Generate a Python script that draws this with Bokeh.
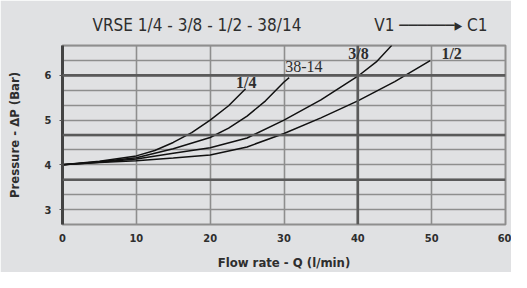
from bokeh.plotting import figure
from bokeh.models import Range1d, FixedTicker, Span, Label
from bokeh.embed import file_html
from bokeh.resources import INLINE

# ---- data ----
title_text = "VRSE 1/4 - 3/8 - 1/2 - 38/14"
flow_from = "V1"
flow_to = "C1"
x_label = "Flow rate - Q (l/min)"
y_label = "Pressure - \u0394P (Bar)"
x_ticks = [0, 10, 20, 30, 40, 50, 60]
y_ticks = [3, 4, 5, 6]

q_14 = [0, 5, 10, 12.5, 15, 17.5, 20, 22.5, 24.8]
p_14 = [4.0, 4.08, 4.2, 4.32, 4.5, 4.72, 5.0, 5.32, 5.7]

q_3814 = [0, 5, 10, 15, 20, 22.5, 25, 27.5, 30, 30.7]
p_3814 = [4.0, 4.07, 4.16, 4.36, 4.61, 4.82, 5.09, 5.43, 5.85, 5.95]

q_38 = [0, 5, 10, 15, 20, 25, 30, 35, 40, 42.5, 44.6]
p_38 = [4.0, 4.06, 4.13, 4.26, 4.38, 4.6, 5.0, 5.45, 5.98, 6.3, 6.67]

q_12 = [0, 5, 10, 15, 20, 25, 30, 35, 40, 45, 49.8]
p_12 = [4.0, 4.05, 4.09, 4.15, 4.22, 4.4, 4.7, 5.05, 5.43, 5.86, 6.33]

curve_labels = ["1/4", "38-14", "3/8", "1/2"]
label_q = [24.9, 32.7, 40.1, 52.7]
label_p = [5.85, 6.19, 6.49, 6.49]

BG = "#e0e1e3"
GRID = "#8e8e8e"
DARK = "#5a5a5a"
TXT = "#2e2e2e"
SANS = "DejaVu Sans Condensed"
SERIF = "Liberation Serif"

NB = "\u00a0"
header = (title_text + NB * 15 + flow_from + NB + "\u2500" * 6 + "\u25b8" + NB + flow_to)

p = figure(width=511, height=272, output_backend="svg", toolbar_location=None,
           x_range=Range1d(0, 60), y_range=Range1d(8 / 3, 20 / 3),
           min_border_left=62, min_border_right=6, min_border_top=45, min_border_bottom=46)
p.background_fill_color = BG
p.border_fill_color = BG
p.outline_line_color = GRID
p.outline_line_width = 2

p.title.text = header
p.title.text_font = SANS
p.title.text_font_size = "17px"
p.title.text_font_style = "normal"
p.title.text_color = TXT
p.title.align = "left"
p.title.offset = 30
p.title.standoff = 21

p.xgrid.ticker = FixedTicker(ticks=x_ticks)
p.ygrid.ticker = FixedTicker(ticks=[8 / 3 + i / 3 for i in range(13)])
for g in (p.xgrid, p.ygrid):
    g.grid_line_color = GRID
    g.grid_line_width = 1.6
for yv in (11 / 3, 14 / 3, 6.0):
    p.add_layout(Span(location=yv, dimension="width", line_color=DARK, line_width=2.6))
p.add_layout(Span(location=40, dimension="height", line_color=DARK, line_width=2.6))

p.xaxis.ticker = FixedTicker(ticks=x_ticks)
p.yaxis.ticker = FixedTicker(ticks=y_ticks)
p.xaxis.axis_line_color = None
p.xaxis.major_tick_line_color = None
p.xaxis.minor_tick_line_color = None
p.xaxis.major_tick_out = 0
p.xaxis.major_label_standoff = 9
p.yaxis.axis_line_color = "#444444"
p.yaxis.axis_line_width = 3
p.yaxis.major_tick_line_color = "#555555"
p.yaxis.major_tick_out = 3
p.yaxis.major_tick_in = 0
p.yaxis.minor_tick_line_color = None
p.yaxis.major_label_standoff = 8
for ax in (p.xaxis, p.yaxis):
    ax.major_label_text_font = SANS
    ax.major_label_text_font_style = "bold"
    ax.major_label_text_font_size = "11px"
    ax.major_label_text_color = TXT
    ax.axis_label_text_font = SANS
    ax.axis_label_text_font_style = "bold"
    ax.axis_label_text_font_size = "13px"
    ax.axis_label_text_color = TXT
p.xaxis.axis_label = x_label
p.yaxis.axis_label = y_label
p.xaxis.axis_label_standoff = 10
p.yaxis.axis_label_standoff = 20

for q, pr in ((q_14, p_14), (q_3814, p_3814), (q_38, p_38), (q_12, p_12)):
    p.line(q, pr, line_color="#111111", line_width=1.5)

for t, xq, yp in zip(curve_labels, label_q, label_p):
    p.add_layout(Label(x=xq, y=yp, text=t, text_font=SERIF, text_font_size="16px",
                       text_font_style="bold" if "/" in t else "normal",
                       text_color=TXT, text_align="center", text_baseline="middle"))

open("out.html", "w").write(file_html(p, INLINE))
